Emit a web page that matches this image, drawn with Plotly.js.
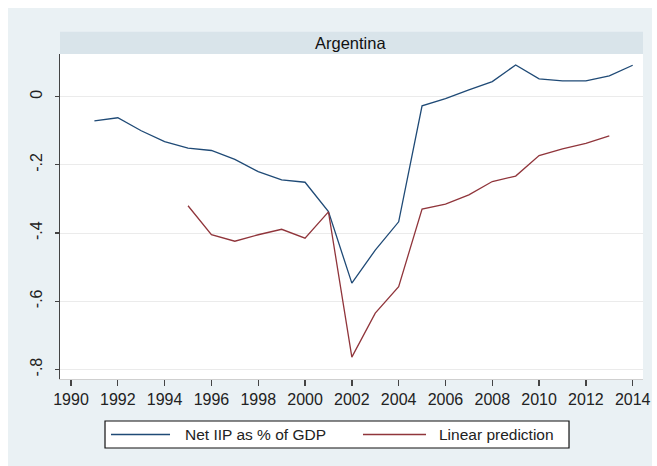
<!DOCTYPE html>
<html>
<head>
<meta charset="utf-8">
<script src="https://cdn.plot.ly/plotly-3.0.1.min.js"></script>
<style>
  html, body { margin: 0; padding: 0; background: #ffffff; }
  #chart { position: absolute; left: 8px; top: 8px; width: 644px; height: 458px; }
</style>
</head>
<body>
<div id="chart"></div>
<script>
// Argentina: net international investment position vs. linear prediction
const iipYears = [1991, 1992, 1993, 1994, 1995, 1996, 1997, 1998, 1999, 2000, 2001, 2002,
                  2003, 2004, 2005, 2006, 2007, 2008, 2009, 2010, 2011, 2012, 2013, 2014];
const netIIP = [-0.071, -0.062, -0.100, -0.132, -0.151, -0.158, -0.184, -0.220, -0.244, -0.251,
                -0.337, -0.547, -0.450, -0.367, -0.027, -0.006, 0.020, 0.044, 0.093, 0.052,
                0.046, 0.046, 0.061, 0.092];

const predYears = [1995, 1996, 1997, 1998, 1999, 2000, 2001, 2002, 2003, 2004, 2005, 2006,
                   2007, 2008, 2009, 2010, 2011, 2012, 2013];
const linearPred = [-0.320, -0.405, -0.424, -0.405, -0.389, -0.415, -0.338, -0.764, -0.635,
                    -0.557, -0.330, -0.315, -0.288, -0.249, -0.233, -0.173, -0.153, -0.137, -0.115];

const yTickVals = [0, -0.2, -0.4, -0.6, -0.8];
const yTickText = ['0', '-.2', '-.4', '-.6', '-.8'];
const xTickVals = [1990, 1992, 1994, 1996, 1998, 2000, 2002, 2004, 2006, 2008, 2010, 2012, 2014];

const panelTitle = 'Argentina';
const seriesNames = ['Net IIP as % of GDP', 'Linear prediction'];
const seriesColors = ['#1f4a76', '#90353b'];

const font = 'Arial, "Liberation Sans", Helvetica, sans-serif';

const traces = [
  {
    x: iipYears, y: netIIP, name: seriesNames[0], type: 'scatter', mode: 'lines',
    line: { color: seriesColors[0], width: 1.3 }, showlegend: false
  },
  {
    x: predYears, y: linearPred, name: seriesNames[1], type: 'scatter', mode: 'lines',
    line: { color: seriesColors[1], width: 1.3 }, showlegend: false
  }
];

// Boxed key below the plot, one row: line sample followed by its label
const key = { x0: 0.0772, x1: 0.8731, y0: -0.2123, y1: -0.1292, yMid: -0.1708 };
const keySamples = [[0.0875, 0.1887], [0.5197, 0.6278]];
const keyLabelX = [0.2110, 0.6467];

const shapes = [
  {
    type: 'rect', xref: 'paper', yref: 'paper',
    x0: 0, x1: 1, y0: 1, y1: 1.0686,
    fillcolor: '#d9e4ea', line: { width: 0 }, layer: 'below'
  },
  {
    type: 'rect', xref: 'paper', yref: 'paper',
    x0: key.x0, x1: key.x1, y0: key.y0, y1: key.y1,
    fillcolor: '#ffffff', line: { color: '#111111', width: 1.2 }
  }
];
const annotations = [
  {
    text: panelTitle, xref: 'paper', yref: 'paper',
    x: 0.499, y: 1.034, xanchor: 'center', yanchor: 'middle',
    showarrow: false,
    font: { family: font, size: 16.5, color: '#111111' }
  }
];
seriesNames.forEach((name, i) => {
  shapes.push({
    type: 'line', xref: 'paper', yref: 'paper',
    x0: keySamples[i][0], x1: keySamples[i][1], y0: key.yMid, y1: key.yMid,
    line: { color: seriesColors[i], width: 1.3 }
  });
  annotations.push({
    text: name, xref: 'paper', yref: 'paper',
    x: keyLabelX[i], y: key.yMid, xanchor: 'left', yanchor: 'middle',
    showarrow: false,
    font: { family: font, size: 15.5, color: '#222222' }
  });
});

const layout = {
  width: 644, height: 458,
  margin: { l: 52, r: 9, t: 46, b: 87 },
  paper_bgcolor: '#eaf1f4',
  plot_bgcolor: '#ffffff',
  font: { family: font, size: 16, color: '#222222' },
  showlegend: false,
  xaxis: {
    range: [1989.53, 2014.44],
    tickmode: 'array', tickvals: xTickVals,
    ticks: 'outside', ticklen: 6, tickwidth: 1.3, tickcolor: '#444444',
    showline: true, linecolor: '#cfcfcf', linewidth: 1,
    showgrid: false, zeroline: false,
    tickfont: { family: font, size: 16, color: '#222222' }
  },
  yaxis: {
    range: [-0.828, 0.125],
    tickmode: 'array', tickvals: yTickVals, ticktext: yTickText,
    tickangle: -90,
    ticks: 'outside', ticklen: 4, tickwidth: 1.3, tickcolor: '#444444',
    showline: true, linecolor: '#444444', linewidth: 1.5,
    showgrid: true, gridcolor: '#ebebeb', gridwidth: 1,
    zeroline: false,
    ticklabelstandoff: 6,
    tickfont: { family: font, size: 16, color: '#222222' }
  },
  shapes: shapes,
  annotations: annotations
};

Plotly.newPlot('chart', traces, layout, { displayModeBar: false, staticPlot: true });
</script>
</body>
</html>
